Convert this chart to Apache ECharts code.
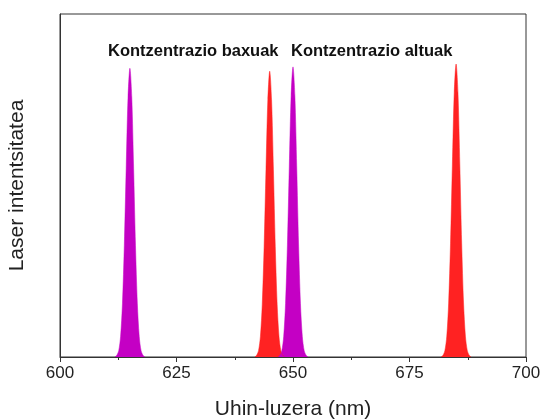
<!DOCTYPE html>
<html><head><meta charset="utf-8">
<script src="https://cdn.jsdelivr.net/npm/echarts@6/dist/echarts.min.js"></script>
<style>html,body{margin:0;padding:0;background:#fff}#c{width:540px;height:419px}</style>
</head><body><div id="c"></div>
<script>
// Wavelength samples (nm) and intensities for each laser peak
const xTicks = [600, 625, 650, 675, 700];
const lowPurpleX = [611.8,612.2,612.6,613.0,613.4,613.8,614.2,614.6,615.0,615.4,615.8,616.2,616.6,617.0,617.4,617.8,618.2];
const lowPurpleY = [0,0.006,0.022,0.072,0.186,0.39,0.66,0.91,1.01,0.91,0.66,0.39,0.186,0.072,0.022,0.006,0];
const lowRedX = [641.8,642.2,642.6,643.0,643.4,643.8,644.2,644.6,645.0,645.4,645.8,646.2,646.6,647.0,647.4,647.8,648.2];
const lowRedY = [0,0.006,0.022,0.071,0.184,0.386,0.655,0.90,1.0,0.90,0.655,0.386,0.184,0.071,0.022,0.006,0];
const highPurpleX = [646.8,647.2,647.6,648.0,648.4,648.8,649.2,649.6,650.0,650.4,650.8,651.2,651.6,652.0,652.4,652.8,653.2];
const highPurpleY = [0,0.006,0.022,0.072,0.187,0.392,0.665,0.915,1.015,0.915,0.665,0.392,0.187,0.072,0.022,0.006,0];
const highRedX = [681.8,682.2,682.6,683.0,683.4,683.8,684.2,684.6,685.0,685.4,685.8,686.2,686.6,687.0,687.4,687.8,688.2];
const highRedY = [0,0.006,0.023,0.073,0.189,0.396,0.672,0.925,1.025,0.925,0.672,0.396,0.189,0.073,0.023,0.006,0];
const labels = ['Kontzentrazio baxuak', 'Kontzentrazio altuak'];

const PURPLE = '#C400C4', RED = '#FF2222';
function zip(xs, ys){ return xs.map((x,i)=>[x, ys[i]]); }
function peak(xs, ys, color){
  return {type:'line', data: zip(xs, ys), symbol:'none', smooth:0.3,
    lineStyle:{color:color, width:0.5}, areaStyle:{color:color, opacity:1}, z:2};
}
const chart = echarts.init(document.getElementById('c'), null, {renderer:'canvas'});
chart.setOption({
  animation:false,
  backgroundColor:'#fff',
  grid:{left:60, right:14, top:14, bottom:62, show:true, borderColor:'#333', borderWidth:1,
    containLabel:false, outerBoundsMode:'none'},
  xAxis:{type:'value', min:600, max:700, interval:25,
    name:'Uhin-luzera (nm)', nameLocation:'middle', nameGap:42,
    nameTextStyle:{fontFamily:'Liberation Sans', fontSize:21, color:'#222'},
    axisLine:{show:true, lineStyle:{color:'#333', width:1}},
    axisTick:{show:true, inside:false, length:5, lineStyle:{color:'#333'}},
    minorTick:{show:true, splitNumber:2, length:3, lineStyle:{color:'#333'}},
    axisLabel:{fontFamily:'Liberation Sans', fontSize:17, color:'#222', margin:8,
      customValues: xTicks},
    splitLine:{show:false}},
  yAxis:{type:'value', min:0, max:1.2,
    name:'Laser intentsitatea', nameLocation:'middle', nameGap:32,
    nameTextStyle:{fontFamily:'Liberation Sans', fontSize:21, color:'#222'},
    axisLine:{show:true, lineStyle:{color:'#333'}}, axisTick:{show:false},
    axisLabel:{show:false}, splitLine:{show:false}},
  graphic:[
    {type:'text', left:108, top:43, style:{text:labels[0], font:'bold 16.5px "Liberation Sans"', fill:'#111'}},
    {type:'text', left:291, top:43, style:{text:labels[1], font:'bold 16.5px "Liberation Sans"', fill:'#111'}}
  ],
  series:[
    peak(lowPurpleX, lowPurpleY, PURPLE),
    peak(lowRedX, lowRedY, RED),
    peak(highPurpleX, highPurpleY, PURPLE),
    peak(highRedX, highRedY, RED)
  ]
});
</script></body></html>
